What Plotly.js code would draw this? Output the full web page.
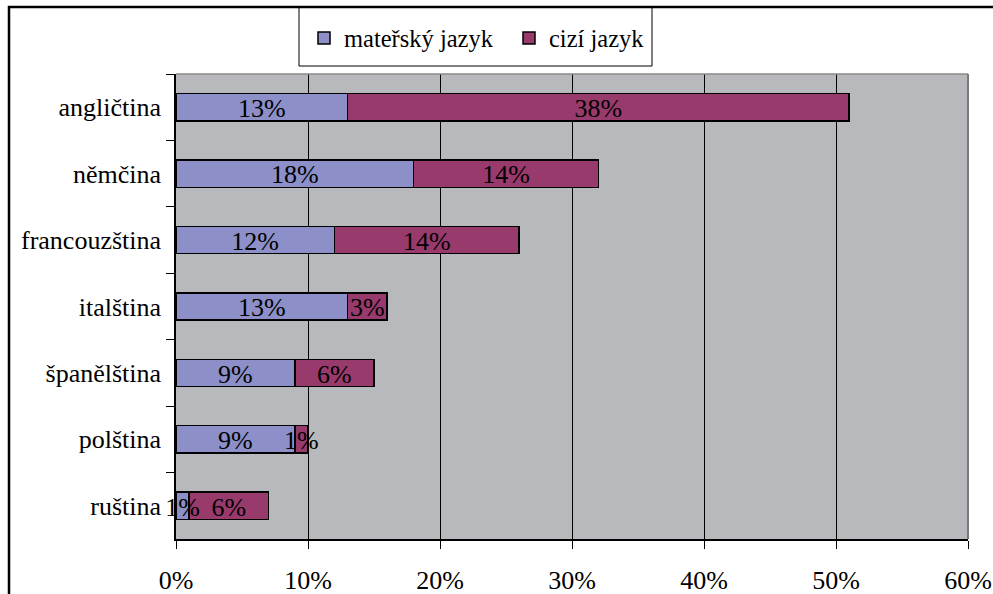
<!DOCTYPE html>
<html>
<head>
<meta charset="utf-8">
<script src="https://cdn.plot.ly/plotly-3.0.1.min.js"></script>
<style>
  html, body { margin: 0; padding: 0; background: #ffffff; }
  #chart { width: 993px; height: 594px; }
</style>
</head>
<body>
<div id="chart"></div>
<script>
// Languages, listed from top to bottom
const languages = ['angličtina', 'němčina', 'francouzština', 'italština', 'španělština', 'polština', 'ruština'];
// Share of people speaking the language as mother tongue (%)
const nativeShare = [13, 18, 12, 13, 9, 9, 1];
// Share of people speaking it as a foreign language (%)
const foreignShare = [38, 14, 14, 3, 6, 1, 6];
const seriesNames = ['mateřský jazyk', 'cizí jazyk'];
const xTicks = [0, 10, 20, 30, 40, 50, 60];

const W = 993, H = 594;
const M = { l: 176, r: 25, t: 74, b: 55 };
const plotW = W - M.l - M.r, plotH = H - M.t - M.b;
// convert page pixels to paper coordinates
const px = x => (x - M.l) / plotW;
const py = y => (H - M.b - y) / plotH;

const SERIF = 'Liberation Serif';
const font = size => ({ family: SERIF, size: size, color: '#000000' });

function barTrace(name, values, color) {
  return {
    type: 'bar',
    orientation: 'h',
    name: name,
    y: languages,
    x: values,
    marker: { color: color, line: { color: '#000000', width: 1.5 } },
    hoverinfo: 'skip'
  };
}

// value labels sit centred on each stacked segment, above all bars
function labelTrace(values, offsets) {
  return {
    type: 'scatter',
    mode: 'text',
    yaxis: 'y2',
    y: languages,
    x: values.map((v, i) => offsets[i] + v / 2),
    text: values.map(v => v + '%'),
    textposition: 'middle center',
    textfont: font(26),
    cliponaxis: false,
    showlegend: false,
    hoverinfo: 'skip'
  };
}

const zeros = languages.map(() => 0);
const data = [
  barTrace(seriesNames[0], nativeShare, '#8c8fc8'),
  barTrace(seriesNames[1], foreignShare, '#983a6c'),
  labelTrace(nativeShare, zeros),
  labelTrace(foreignShare, nativeShare)
];

// labels sit a little low within their bars
const labelDrop = 0.05;

const layout = {
  width: W,
  height: H,
  margin: M,
  paper_bgcolor: '#ffffff',
  plot_bgcolor: '#b8b9bc',
  barmode: 'stack',
  bargap: 0.59,
  font: font(26),
  xaxis: {
    range: [0, 60],
    tickvals: xTicks,
    ticktext: xTicks.map(v => v + '%'),
    showgrid: true,
    gridcolor: '#000000',
    gridwidth: 1,
    zeroline: false,
    showline: true,
    linecolor: '#000000',
    linewidth: 1.5,
    ticks: 'outside',
    ticklen: 8,
    tickcolor: '#000000',
    tickwidth: 1,
    ticklabelstandoff: 9,
    tickfont: font(26),
    fixedrange: true
  },
  yaxis: {
    type: 'category',
    categoryorder: 'array',
    categoryarray: languages,
    range: [languages.length - 0.5, -0.5],
    showgrid: false,
    zeroline: false,
    showline: true,
    linecolor: '#000000',
    linewidth: 1.5,
    ticks: 'outside',
    tickson: 'boundaries',
    ticklen: 8,
    tickcolor: '#000000',
    tickwidth: 1,
    ticklabelstandoff: 8,
    tickfont: font(26),
    fixedrange: true
  },
  yaxis2: {
    type: 'category',
    categoryorder: 'array',
    categoryarray: languages,
    overlaying: 'y',
    range: [languages.length - 0.5 - labelDrop, -0.5 - labelDrop],
    visible: false,
    fixedrange: true
  },
  showlegend: true,
  legend: {
    orientation: 'h',
    x: px(304),
    xanchor: 'left',
    y: py(38),
    yanchor: 'middle',
    bgcolor: 'rgba(0,0,0,0)',
    borderwidth: 0,
    entrywidth: 160,
    entrywidthmode: 'pixels',
    font: font(24.5),
    traceorder: 'normal'
  },
  shapes: [
    // plot area frame: top and right edges in gray
    { type: 'line', xref: 'paper', yref: 'paper', x0: 0, x1: 1, y0: 1, y1: 1,
      line: { color: '#8a8a8a', width: 1.5 }, layer: 'above' },
    { type: 'line', xref: 'paper', yref: 'paper', x0: 1, x1: 1, y0: 0, y1: 1,
      line: { color: '#7a7a7a', width: 2 }, layer: 'above' },
    // legend box
    { type: 'rect', xref: 'paper', yref: 'paper',
      x0: px(299), x1: px(652), y0: py(66), y1: py(7),
      fillcolor: '#ffffff', line: { color: '#000000', width: 1 }, layer: 'below' },
    // outer chart frame
    { type: 'rect', xref: 'paper', yref: 'paper',
      x0: px(9), x1: px(1010), y0: py(610), y1: py(7),
      line: { color: '#000000', width: 2.5 }, layer: 'above' }
  ]
};

Plotly.newPlot('chart', data, layout, { displayModeBar: false });
</script>
</body>
</html>
